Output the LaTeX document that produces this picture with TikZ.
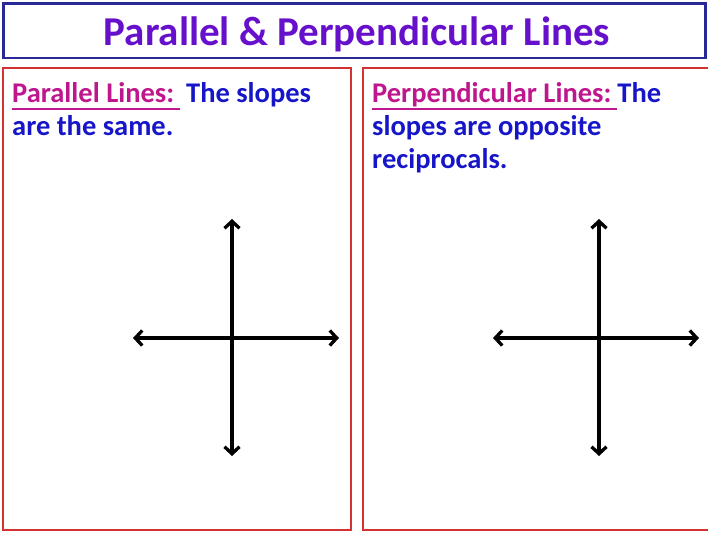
\documentclass[tikz,border=0pt]{standalone}
\usepackage{fontspec}
\setmainfont{Carlito}
\usetikzlibrary{arrows.meta}
\newsavebox{\myulbox}
\newcommand\myul[1]{\sbox{\myulbox}{#1}\rlap{\rule[-7.5pt]{\wd\myulbox}{1.8pt}}\usebox{\myulbox}}
\definecolor{titlepurple}{RGB}{102,16,204}
\definecolor{titleblue}{RGB}{40,40,150}
\definecolor{panelred}{RGB}{210,50,50}
\definecolor{magentatxt}{RGB}{190,22,140}
\definecolor{bluetxt}{RGB}{22,22,200}
\begin{document}
\begin{tikzpicture}[x=1pt,y=-1pt,
  titlebox/.style={draw=titleblue,line width=2.2pt,fill=white},
  panel/.style={draw=panelred,line width=2pt},
  bodytxt/.style={anchor=base west,inner sep=0pt,font=\fontsize{28.5}{33}\selectfont\bfseries,text=bluetxt},
  axis/.style={line width=3.3pt,{Straight Barb[length=7pt,width=15pt]}-{Straight Barb[length=7pt,width=15pt]}}]
\useasboundingbox (0,0) rectangle (708,533);
% title
\draw[titlebox] (3.5,3.5) rectangle (705.5,58);
\node[anchor=base,inner sep=0pt,text=titlepurple,font=\fontsize{41}{49}\selectfont\bfseries] (title) at (357,45) {Parallel \& Perpendicular Lines};
% panels
\draw[panel] (3,68) rectangle (351,530);
\draw[panel] (363,68) rectangle (709,530);
% left text
\node[bodytxt] (l1) at (12,102) {\textcolor{magentatxt}{\myul{Parallel Lines:\hspace{6pt}}}\hspace{6pt}The slopes};
\node[bodytxt] (l2) at (12,135) {are the same.};
% right text
\node[bodytxt] (r1) at (372,102) {\textcolor{magentatxt}{\myul{Perpendicular Lines:\hspace{6pt}}}The};
\node[bodytxt] (r2) at (372,135) {slopes are opposite};
\node[bodytxt] (r3) at (372,168) {reciprocals.};
% left axes
\coordinate (lt) at (232,219);
\coordinate (lb) at (232,456);
\coordinate (ll) at (133,338);
\coordinate (lr) at (339,338);
\draw[axis] (lt) -- (lb);
\draw[axis] (ll) -- (lr);
% right axes
\coordinate (rt) at (599,219);
\coordinate (rb) at (599,456);
\coordinate (rl) at (493,338);
\coordinate (rr) at (699,338);
\draw[axis] (rt) -- (rb);
\draw[axis] (rl) -- (rr);
\end{tikzpicture}
\end{document}
